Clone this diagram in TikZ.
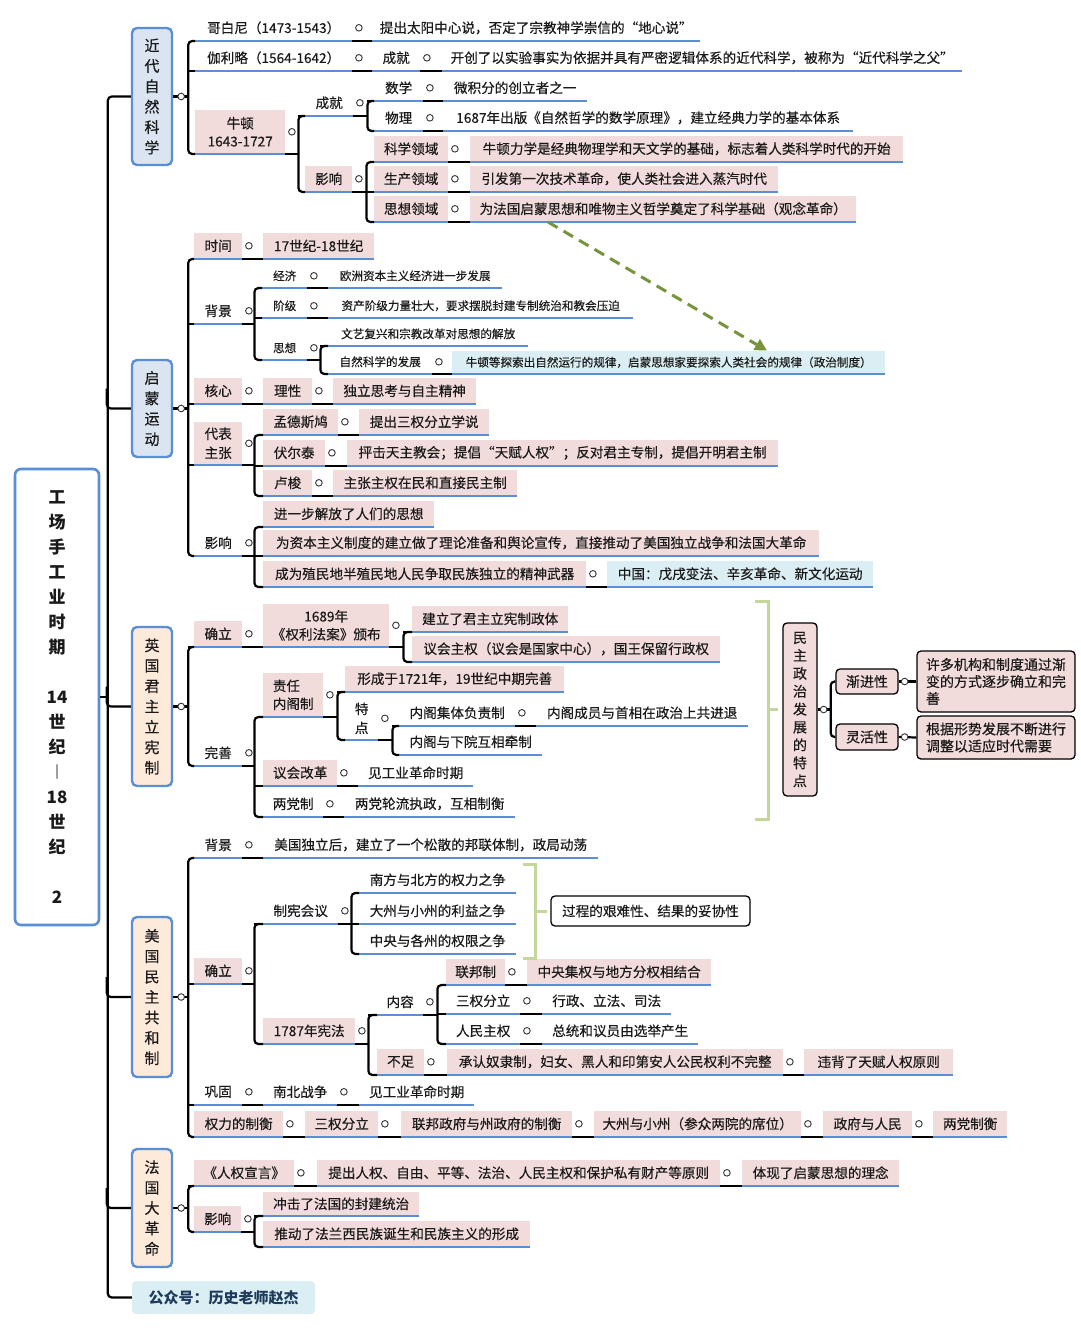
\documentclass[tikz,border=0pt]{standalone}
\usepackage{fontspec}
\setmainfont{Noto Sans CJK SC}[UprightFeatures={FakeBold=0.35}]
\usetikzlibrary{calc,arrows.meta}
\definecolor{pk}{HTML}{F2DCDB}
\definecolor{bl}{HTML}{5A8FD6}
\definecolor{lb}{HTML}{DBE5F1}
\definecolor{pe}{HTML}{FDEADA}
\definecolor{nb}{HTML}{DAEEF3}
\definecolor{gd}{HTML}{77933C}
\definecolor{gb}{HTML}{C3D69B}
\definecolor{tx}{HTML}{1A1A1A}
\definecolor{wm}{HTML}{1F3B5C}
\newcommand\mf{\fontsize{13.6}{18}\selectfont}
\newcommand\smf{\fontsize{11.6}{14}\selectfont}
\tikzset{
 tp/.style={anchor=south west, inner xsep=2pt, inner ysep=0pt, minimum height=26, font=\mf, text=tx},
 pf/.style={fill=pk},
 sm/.style={font=\smf, minimum height=24},
 ul/.style={draw=bl, line width=2.4pt},
 cn/.style={draw=black, line width=2.2pt, rounded corners=4pt},
 ci/.style={draw=black!80, fill=white, line width=0.9pt},
 sec/.style={draw=bl, line width=2.4pt, rounded corners=5pt, minimum width=40, align=center, font=\fontsize{15}{20.4}\selectfont, inner sep=0pt, text=tx},
 bx/.style={draw=black, line width=1.3pt, rounded corners=4pt, fill=pk, font=\fontsize{14}{17}\selectfont, inner sep=0pt, text=tx},
 br/.style={draw=gb, line width=3pt},
}
\newcommand\T[6][]{\node[tp,minimum width={(#4)-(#3)},#1] (#2) at (#3,#5) {#6};\draw[ul] (#2.south west) -- (#2.south east);}
\newcommand\Ci[2][6.5]{\draw[ci] ($(#2.east)+(#1,0)$) circle (3.3pt);}
\newcommand\Cs[2]{\draw[cn] (#1.south east) -- (#2.south west);\Ci{#1}}
\newcommand\Cv[5]{\path (#1) ++(#2,0) coordinate (xv);\draw[cn] (#1) -- (xv);\draw[cn] (#3.south west) -| (xv) |- (#4.south west);\foreach \nd in {#5}{\draw[cn] (\nd.south west) -- (\nd.south west -| xv);}}
\begin{document}
\begin{tikzpicture}[x=1pt,y=-1pt]
\fill[white] (0,0) rectangle (1080,1331);
\useasboundingbox (0,0) rectangle (1080,1331);
% root and sections
\node[draw=bl, line width=2.6pt, rounded corners=6pt, fill=white, minimum width=84, minimum height=456, align=center, font=\bfseries\fontsize{17}{25}\selectfont, inner sep=0pt, text=tx] (root) at (57,697) {工\\场\\手\\工\\业\\时\\期\\[25pt]14\\世\\纪\\︱\\18\\世\\纪\\[25pt]2};
\node[sec,fill=lb,minimum height=137] (s1) at (152,96.5) {近\\代\\自\\然\\科\\学};
\node[sec,fill=lb,minimum height=97] (s2) at (152,408.5) {启\\蒙\\运\\动};
\node[sec,fill=pe,minimum height=159] (s3) at (152,706.5) {英\\国\\君\\主\\立\\宪\\制};
\node[sec,fill=pe,minimum height=160] (s4) at (152,997) {美\\国\\民\\主\\共\\和\\制};
\node[sec,fill=pe,minimum height=118] (s5) at (152,1208) {法\\国\\大\\革\\命};
\node[fill=nb, rounded corners=4pt, minimum width=183, minimum height=33, inner sep=0pt, font=\bfseries\fontsize{15}{18}\selectfont, text=wm] (s6) at (223.5,1297.5) {公众号：历史老师赵杰};
\coordinate (sp) at (108,96.5);
\draw[cn] (s1.west) -| ($(s6.west)+(-24,0)$) -- (s6.west);
\foreach \s in {s2,s3,s4,s5}{\draw[cn] ($(\s.west)+(-24,-20)$) |- (\s.west);}
\draw[cn] (root.east) -- (root.east -| sp);
% ---------- section 1
\T{a1}{195}{352}{41}{哥白尼（1473-1543）}
\T{a1c}{372}{700}{41}{提出太阳中心说，否定了宗教神学崇信的“地心说”}
\T{a2}{195}{352}{71}{伽利略（1564-1642）}
\T{a2a}{372}{420}{71}{成就}
\T{a2b}{442}{962}{71}{开创了以实验事实为依据并具有严密逻辑体系的近代科学，被称为“近代科学之父”}
\T[pf,minimum height=44,align=center]{a3}{195}{285}{154}{牛顿\\1643-1727}
\T{a3a}{305}{353}{116}{成就}
\T{a3a1}{374}{423}{101}{数学}
\T{a3a1c}{443}{587}{101}{微积分的创立者之一}
\T{a3a2}{374}{423}{131}{物理}
\T{a3a2c}{443}{853}{131}{1687年出版《自然哲学的数学原理》，建立经典力学的基本体系}
\T[pf]{a3b}{305}{352}{192}{影响}
\T[pf]{a3b1}{374}{448}{162}{科学领域}
\T[pf]{a3b1c}{470}{903}{162}{牛顿力学是经典物理学和天文学的基础，标志着人类科学时代的开始}
\T[pf]{a3b2}{374}{448}{192}{生产领域}
\T[pf]{a3b2c}{470}{778}{192}{引发第一次技术革命，使人类社会进入蒸汽时代}
\T[pf]{a3b3}{374}{448}{222}{思想领域}
\T[pf]{a3b3c}{470}{856}{222}{为法国启蒙思想和唯物主义哲学奠定了科学基础（观念革命）}
\Cv{s1.east}{15}{a1}{a3}{a2}\Ci[8]{s1}
\Cs{a1}{a1c}
\Cs{a2}{a2a}\Cs{a2a}{a2b}
\Cv{a3.south east}{13}{a3a}{a3b}{a3a}\Ci{a3}
\Cv{a3a.south east}{14}{a3a1}{a3a2}{a3a1}\Ci{a3a}
\Cs{a3a1}{a3a1c}\Cs{a3a2}{a3a2c}
\Cv{a3b.south east}{14}{a3b1}{a3b3}{a3b2}\Ci{a3b}
\Cs{a3b1}{a3b1c}\Cs{a3b2}{a3b2c}\Cs{a3b3}{a3b3c}
% ---------- section 2
\T[pf]{b1}{194}{242}{259}{时间}
\T[pf]{b1c}{263}{374}{259}{17世纪-18世纪}
\T{b2}{194}{242}{324}{背景}
\T[sm]{b2a}{262}{307}{288}{经济}
\T[sm]{b2a1}{328}{502}{288}{欧洲资本主义经济进一步发展}
\T[sm]{b2b}{262}{307}{318}{阶级}
\T[sm]{b2b1}{328}{633}{318}{资产阶级力量壮大，要求摆脱封建专制统治和教会压迫}
\T[sm]{b2c}{262}{307}{360}{思想}
\T[sm]{b2c1}{328}{528}{346}{文艺复兴和宗教改革对思想的解放}
\T[sm]{b2c2}{328}{432}{374}{自然科学的发展}
\T[sm,fill=nb,minimum height=23]{b2c2c}{452}{885}{374}{牛顿等探索出自然运行的规律，启蒙思想家要探索人类社会的规律（政治制度）}
\T[pf]{b3}{194}{242}{404}{核心}
\T[pf]{b3a}{263}{312}{404}{理性}
\T[pf]{b3b}{333}{476}{404}{独立思考与自主精神}
\T[pf,minimum height=43,align=center,font=\fontsize{13.6}{19}\selectfont]{b4}{194}{242}{465}{代表\\主张}
\T[pf]{b4a}{263}{338}{435}{孟德斯鸠}
\T[pf]{b4a1}{359}{489}{435}{提出三权分立学说}
\T[pf]{b4b}{263}{325}{466}{伏尔泰}
\T[pf]{b4b1}{347}{778}{466}{抨击天主教会；提倡“天赋人权”；反对君主专制，提倡开明君主制}
\T[pf]{b4c}{263}{312}{496}{卢梭}
\T[pf]{b4c1}{333}{517}{496}{主张主权在民和直接民主制}
\T{b5}{194}{242}{556}{影响}
\T[pf]{b5a}{263}{434}{527}{进一步解放了人们的思想}
\T[pf]{b5b}{263}{819}{556}{为资本主义制度的建立做了理论准备和舆论宣传，直接推动了美国独立战争和法国大革命}
\T[pf]{b5c}{263}{586}{587}{成为殖民地半殖民地人民争取民族独立的精神武器}
\T[fill=nb]{b5c1}{607}{873}{587}{中国：戊戌变法、辛亥革命、新文化运动}
\Cv{s2.east}{15}{b1}{b5}{b2,b3,b4}\Ci[8]{s2}
\Cs{b1}{b1c}
\Cv{b2.south east}{12}{b2a}{b2c}{b2b}\Ci{b2}
\Cs{b2a}{b2a1}\Cs{b2b}{b2b1}
\Cv{b2c.south east}{13}{b2c1}{b2c2}{b2c1}\Ci{b2c}
\Cs{b2c2}{b2c2c}
\Cs{b3}{b3a}\Cs{b3a}{b3b}
\Cv{b4.south east}{12}{b4a}{b4c}{b4b}\Ci{b4}
\Cs{b4a}{b4a1}\Cs{b4b}{b4b1}\Cs{b4c}{b4c1}
\Cv{b5.south east}{12}{b5a}{b5c}{b5b}\Ci{b5}
\Cs{b5c}{b5c1}
% ---------- section 3
\T[pf]{c1}{194}{242}{647}{确立}
\T[pf,minimum height=43,align=center]{c1a}{263}{389}{647}{1689年\\《权利法案》颁布}
\T[pf]{c1a1}{412}{568}{632}{建立了君主立宪制政体}
\T[pf]{c1a2}{412}{720}{662}{议会主权（议会是国家中心），国王保留行政权}
\T{c2}{194}{242}{766}{完善}
\T[pf,minimum height=44,align=left]{c2a}{263}{323}{717}{责任\\内阁制}
\T[pf]{c2a1}{345}{564}{692}{形成于1721年，19世纪中期完善}
\T[minimum height=43,align=center,font=\fontsize{13.6}{19}\selectfont]{c2a2}{345}{378}{740}{特\\点}
\T{c2a2a}{399}{515}{726}{内阁集体负责制}
\T{c2a2a1}{536}{748}{726}{内阁成员与首相在政治上共进退}
\T{c2a2b}{399}{542}{755}{内阁与下院互相牵制}
\T[pf]{c2b}{263}{337}{786}{议会改革}
\T{c2b1}{358}{473}{786}{见工业革命时期}
\T{c2c}{263}{323}{817}{两党制}
\T{c2c1}{344}{515}{817}{两党轮流执政，互相制衡}
\Cv{s3.east}{15}{c1}{c2}{c1}\Ci[8]{s3}
\Cs{c1}{c1a}
\Cv{c1a.south east}{14}{c1a1}{c1a2}{c1a1}\Ci{c1a}
\Cv{c2.south east}{12}{c2a}{c2c}{c2b}\Ci{c2}
\Cv{c2a.south east}{14}{c2a1}{c2a2}{c2a1}\Ci{c2a}
\Cv{c2a2.south east}{14}{c2a2a}{c2a2b}{c2a2a}\Ci{c2a2}
\Cs{c2a2a}{c2a2a1}\Cs{c2b}{c2b1}\Cs{c2c}{c2c1}
% bracket and features
\draw[br] (755,601) -- (768,601) -- (768,819) -- (755,819);
\draw[br] (768,709) -- (778,709);
\node[bx,minimum width=34,minimum height=173,align=center,font=\fontsize{14}{17.9}\selectfont] (d) at (800,709.5) {民\\主\\政\\治\\发\\展\\的\\特\\点};
\node[bx,minimum width=62,minimum height=25] (d1) at (867,681.5) {渐进性};
\node[bx,minimum width=158,minimum height=61,align=left] (d1c) at (996,681.5) {许多机构和制度通过渐\\变的方式逐步确立和完\\善};
\node[bx,minimum width=62,minimum height=26] (d2) at (867,737) {灵活性};
\node[bx,minimum width=158,minimum height=43,align=left] (d2c) at (996,737.5) {根据形势发展不断进行\\调整以适应时代需要};
\path (d.east) ++(13,0) coordinate (dv);
\draw[cn] (d.east) -- (dv);
\draw[cn] (d1.west) -| (dv) |- (d2.west);
\draw[cn] (d1.east) -- (d1c.west);
\draw[cn] (d2.east) -- (d2c.west);
\Ci[6]{d}\Ci[6]{d1}\Ci[6]{d2}
% ---------- section 4
\T{e1}{194}{242}{858}{背景}
\T{e1c}{263}{598}{858}{美国独立后，建立了一个松散的邦联体制，政局动荡}
\T[pf]{e2}{194}{242}{984}{确立}
\T{e2a}{263}{338}{924}{制宪会议}
\T{e2a1}{359}{516}{893}{南方与北方的权力之争}
\T{e2a2}{359}{516}{924}{大州与小州的利益之争}
\T{e2a3}{359}{516}{954}{中央与各州的权限之争}
\T[pf]{e2b}{263}{355}{1044}{1787年宪法}
\T{e2b1}{377}{423}{1015}{内容}
\T[pf]{e2b1a}{446}{505}{985}{联邦制}
\T[pf]{e2b1a1}{527}{711}{985}{中央集权与地方分权相结合}
\T{e2b1b}{446}{520}{1014}{三权分立}
\T{e2b1b1}{542}{671}{1014}{行政、立法、司法}
\T{e2b1c}{446}{520}{1044}{人民主权}
\T{e2b1c1}{542}{698}{1044}{总统和议员由选举产生}
\T[pf]{e2b2}{377}{424}{1075}{不足}
\T[pf]{e2b2a}{447}{783}{1075}{承认奴隶制，妇女、黑人和印第安人公民权利不完整}
\T[pf]{e2b2b}{804}{953}{1075}{违背了天赋人权原则}
\T{e3}{194}{242}{1105}{巩固}
\T{e3a}{263}{337}{1105}{南北战争}
\T{e3b}{359}{474}{1105}{见工业革命时期}
\T[pf]{e4}{194}{283}{1137}{权力的制衡}
\T[pf]{e4a}{305}{378}{1137}{三权分立}
\T[pf]{e4b}{401}{572}{1137}{联邦政府与州政府的制衡}
\T[pf]{e4c}{594}{801}{1137}{大州与小州（参众两院的席位）}
\T[pf]{e4d}{823}{912}{1137}{政府与人民}
\T[pf]{e4e}{933}{1007}{1137}{两党制衡}
\Cv{s4.east}{15}{e1}{e4}{e2,e3}\Ci[8]{s4}
\Cs{e1}{e1c}
\Cv{e2.south east}{12}{e2a}{e2b}{e2a}\Ci{e2}
\Cv{e2a.south east}{13}{e2a1}{e2a3}{e2a2}\Ci{e2a}
\Cv{e2b.south east}{13}{e2b1}{e2b2}{e2b1}\Ci{e2b}
\Cv{e2b1.south east}{14}{e2b1a}{e2b1c}{e2b1b}\Ci{e2b1}
\Cs{e2b1a}{e2b1a1}\Cs{e2b1b}{e2b1b1}\Cs{e2b1c}{e2b1c1}
\Cs{e2b2}{e2b2a}\Cs{e2b2a}{e2b2b}
\Cs{e3}{e3a}\Cs{e3a}{e3b}
\Cs{e4}{e4a}\Cs{e4a}{e4b}\Cs{e4b}{e4c}\Cs{e4c}{e4d}\Cs{e4d}{e4e}
\node[draw=black, line width=1.3pt, rounded corners=4pt, fill=white, minimum width=199, minimum height=30, inner sep=0pt, font=\mf, text=tx] (e2n) at (650.5,911) {过程的艰难性、结果的妥协性};
\draw[br] (523,864) -- (535,864) -- (535,958) -- (523,958);
\draw[br] (535,911) -- (547,911);
% ---------- section 5
\T[pf]{f1}{194}{294}{1186}{《人权宣言》}
\T[pf]{f1a}{317}{720}{1186}{提出人权、自由、平等、法治、人民主权和保护私有财产等原则}
\T[pf]{f1b}{742}{899}{1186}{体现了启蒙思想的理念}
\T[pf]{f2}{194}{241}{1232}{影响}
\T[pf,minimum height=24]{f2a}{263}{419}{1216}{冲击了法国的封建统治}
\T[pf]{f2b}{263}{530}{1247}{推动了法兰西民族诞生和民族主义的形成}
\Cv{s5.east}{15}{f1}{f2}{f1}\Ci[8]{s5}
\Cs{f1}{f1a}\Cs{f1a}{f1b}
\Cv{f2.south east}{13}{f2a}{f2b}{f2a}\Ci{f2}
% green dashed arrow
\draw[gd, line width=3pt, dash pattern=on 11pt off 7pt, -{Triangle[length=12pt,width=12pt]}] ($(a3b3c.south west)+(78,0)$) -- ($(b2c2c.north west)+(315,0)$);
\end{tikzpicture}
\end{document}
